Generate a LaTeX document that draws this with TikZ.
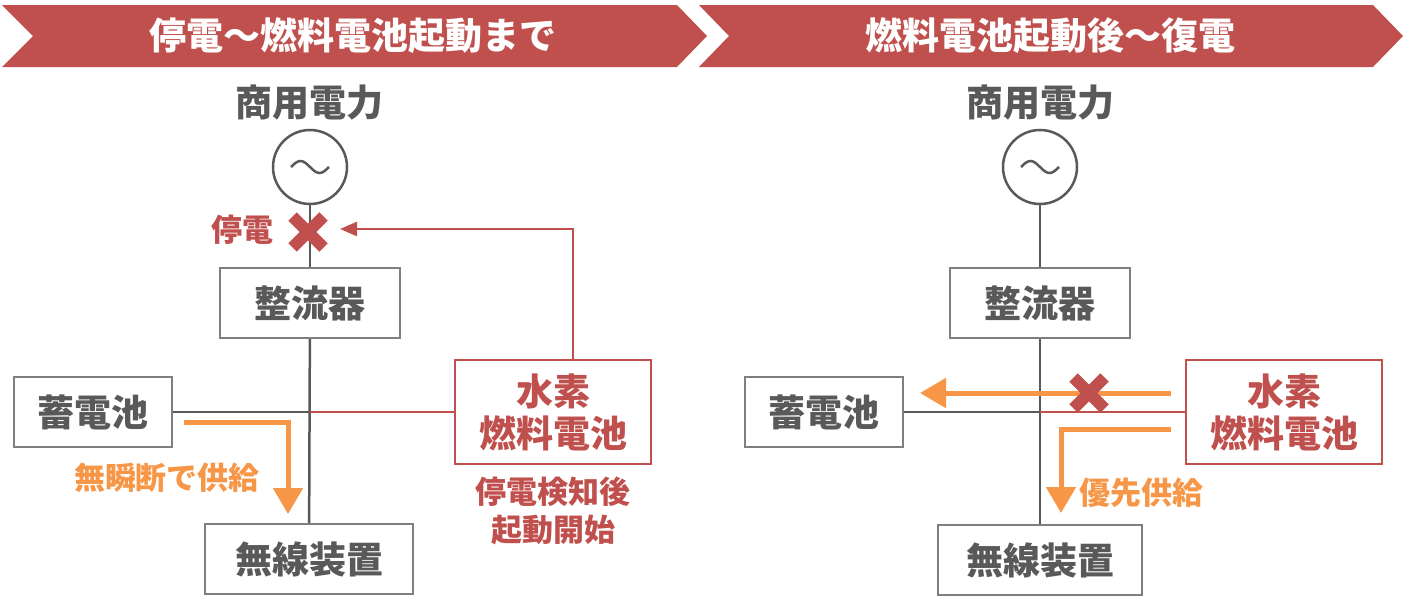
\documentclass[tikz,border=0pt]{standalone}
\usepackage{fontspec}
\setmainfont{Noto Sans CJK JP}
\usetikzlibrary{positioning, arrows.meta, calc}
\definecolor{myRed}{HTML}{C0504D}
\definecolor{myOrange}{HTML}{F79646}
\definecolor{mGray}{HTML}{595959}
\definecolor{mFrame}{HTML}{7F7F7F}
\newcommand{\cutmark}[1]{%
  \draw[myRed, line width=6pt] ($(#1)+(-15.5,-15.5)$) -- ($(#1)+(15.5,15.5)$)
                               ($(#1)+(-15.5,15.5)$) -- ($(#1)+(15.5,-15.5)$);}

\begin{document}
\begin{tikzpicture}[
  x=0.5pt, y=-0.5pt,
  banner/.style={font=\fontsize{18.5}{21}\bfseries, text=white},
  title/.style={font=\fontsize{18.5}{21}\bfseries, text=mGray},
  unit/.style={draw=mFrame, line width=1pt, fill=white, text=mGray, inner sep=0pt,
               font=\fontsize{18.5}{21}\bfseries, minimum height=35pt},
  fcell/.style={draw=myRed, line width=1pt, fill=white, text=myRed, inner sep=0pt, align=center,
                font=\fontsize{18.5}{21}\bfseries, minimum width=98pt, minimum height=52pt},
  src/.style={circle, draw=mGray, line width=1.25pt, minimum size=37pt, inner sep=0pt},
  note/.style={font=\fontsize{15.5}{19}\bfseries, align=center},
  wire/.style={draw=mGray, line width=1.25pt},
  hwire/.style={draw=myRed, line width=1.25pt},
  signal/.style={draw=myRed, line width=1.25pt, -{Triangle[length=8.5pt, width=7pt]}},
  flow/.style={draw=myOrange, line width=2.5pt, -{Triangle[length=13pt, width=14.5pt]}},
]
  \useasboundingbox (0,0) rectangle (1404,605);

  \fill[myRed] (2,5) -- (677,5) -- (707,36) -- (677,67) -- (2,67) -- (33,36) -- cycle;
  \fill[myRed] (699,5) -- (1373,5) -- (1403,36) -- (1373,67) -- (699,67) -- (729,36) -- cycle;
  \node[banner] (banL) at (353,36) {停電～燃料電池起動まで};
  \node[banner] (banR) at (1050,36) {燃料電池起動後～復電};

  % left
  \node[title] (gridL) at (309,103) {商用電力};
  \node[src] (acL) at (310,167) {};
  \draw[mGray, line width=1.25pt] (291,167) sin (300.5,161) cos (310,167) sin (319.5,173) cos (329,167);
  \node[unit, minimum width=90pt] (rectL) at (310,303) {整流器};
  \node[unit, minimum width=79pt] (battL) at (93,412) {蓄電池};
  \node[fcell] (fcL) at (553,412) {水素\\燃料電池};
  \node[unit, minimum width=104pt] (loadL) at (309,559) {無線装置};
  \coordinate (busL) at (310,412);
  \coordinate (cutL) at (308,232);
  \coordinate (sigL) at (573,229);
  \coordinate (tipL) at (340,229);

  \draw[wire] (acL) -- (rectL);
  \draw[wire] (rectL) -- (loadL);
  \draw[wire] (battL.east) -- (busL);
  \draw[hwire] (busL) -- (fcL.west);
  \draw[signal] (fcL.north -| sigL) |- (tipL);
  \cutmark{cutL}
  \node[note, text=myRed] (offL) at (242,230) {停電};
  \draw[flow] ($(battL.east)+(11,10)$) -| ($(loadL.north)+(-21,-9)$);
  \node[note, text=myOrange] (supL) at (167,478) {無瞬断で供給};
  \node[note, text=myRed] (startL) at (553,511) {停電検知後\\起動開始};

  % right
  \node[title] (gridR) at (1040,103) {商用電力};
  \node[src] (acR) at (1040,167) {};
  \draw[mGray, line width=1.25pt] (1021,167) sin (1030.5,161) cos (1040,167) sin (1049.5,173) cos (1059,167);
  \node[unit, minimum width=90pt] (rectR) at (1040,303) {整流器};
  \node[unit, minimum width=79pt] (battR) at (824,412) {蓄電池};
  \node[fcell] (fcR) at (1284,412) {水素\\燃料電池};
  \node[unit, minimum width=102pt] (loadR) at (1040,560) {無線装置};
  \coordinate (busR) at (1040,412);
  \coordinate (cutR) at (1089,393);

  \draw[wire] (acR) -- (rectR);
  \draw[wire] (rectR) -- (loadR);
  \draw[wire] (battR.east) -- (busR);
  \draw[hwire] (busR) -- (fcR.west);
  \draw[flow] ($(fcR.west)+(-14,-19)$) -- ($(battR.east)+(16,-19)$);
  \cutmark{cutR}
  \draw[flow] ($(fcR.west)+(-14,17)$) -| ($(loadR.north)+(21,-11)$);
  \node[note, text=myOrange] (supR) at (1141,493) {優先供給};
\end{tikzpicture}
\end{document}
